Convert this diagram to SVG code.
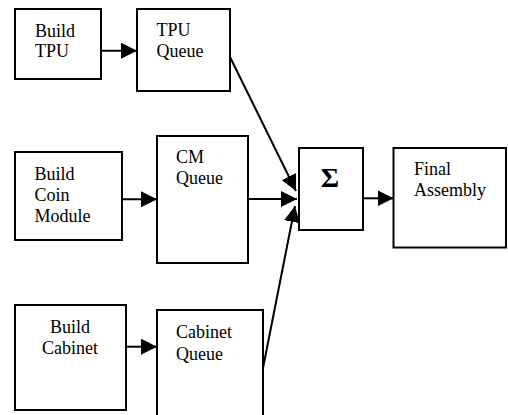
<svg xmlns="http://www.w3.org/2000/svg" width="508" height="415" viewBox="0 0 508 415">
<style>
rect.box{fill:#fff;stroke:#000;stroke-width:2}
text{font-family:"Liberation Serif","Times New Roman",serif;font-size:18px;fill:#000}
.ln{stroke:#000;stroke-width:2;fill:none;marker-end:url(#ah)}
.sig{font-weight:bold;font-size:28px}
</style>
<defs>
<marker id="ah" markerUnits="userSpaceOnUse" markerWidth="16" markerHeight="16" refX="16" refY="8" orient="auto">
<path d="M0,0 L16,8 L0,16 z" fill="#000"/>
</marker>
</defs>
<rect width="508" height="415" fill="#fff"/>
<g id="build-tpu"><rect class="box" x="15" y="9" width="86" height="70"/><text x="35" y="37">Build</text><text x="35" y="57">TPU</text></g>
<g id="tpu-queue"><rect class="box" x="137" y="9" width="93" height="82"/><text x="156.5" y="36">TPU</text><text x="156.5" y="57">Queue</text></g>
<g id="build-coin"><rect class="box" x="15" y="152" width="107" height="88"/><text x="34.5" y="180">Build</text><text x="34.5" y="201">Coin</text><text x="34.5" y="222">Module</text></g>
<g id="cm-queue"><rect class="box" x="157" y="136" width="91" height="127"/><text x="176" y="162.5">CM</text><text x="176" y="183.5">Queue</text></g>
<g id="sum"><rect class="box" x="299" y="148" width="64" height="82"/><text class="sig" x="330" y="186.5" text-anchor="middle">Σ</text></g>
<g id="final"><rect class="box" x="393.5" y="148" width="112.5" height="99.5"/><text x="414" y="175">Final</text><text x="414" y="196">Assembly</text></g>
<g id="build-cabinet"><rect class="box" x="15" y="305" width="111" height="105"/><text x="70" y="333.3" text-anchor="middle">Build</text><text x="70" y="353.5" text-anchor="middle">Cabinet</text></g>
<g id="cabinet-queue"><rect class="box" x="157" y="310" width="106" height="120"/><text x="176" y="338.3">Cabinet</text><text x="176" y="359.5">Queue</text></g>
<g id="connectors">
<line class="ln" x1="101" y1="50.7" x2="137" y2="50.7"/>
<line class="ln" x1="122" y1="199.3" x2="157" y2="199.3"/>
<line class="ln" x1="126" y1="346.7" x2="157" y2="346.7"/>
<line class="ln" x1="363" y1="198.3" x2="393.5" y2="198.3"/>
<line class="ln" x1="248" y1="199" x2="297" y2="199"/>
<line class="ln" x1="230" y1="57" x2="296" y2="191"/>
<line class="ln" x1="263" y1="368" x2="295" y2="206"/>
</g>
</svg>
